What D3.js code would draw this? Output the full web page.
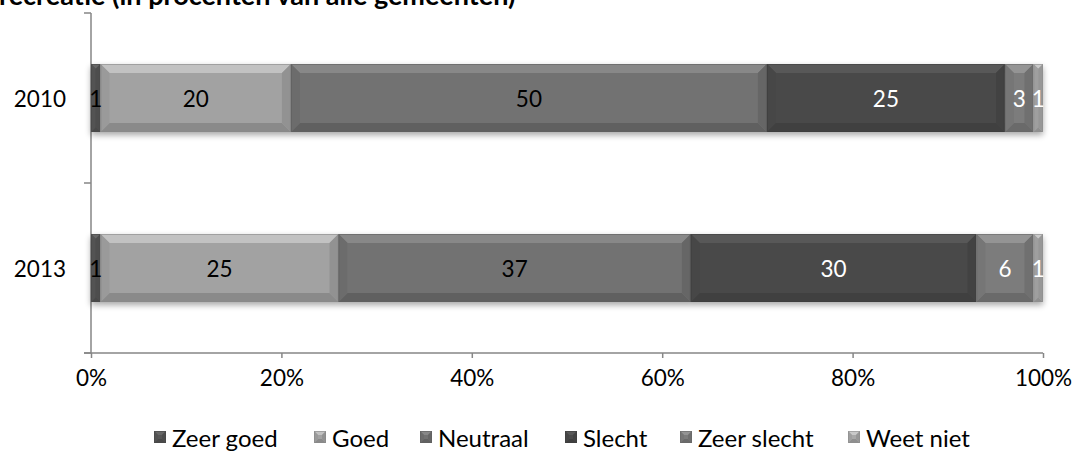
<!DOCTYPE html>
<html><head><meta charset="utf-8">
<script src="https://cdn.jsdelivr.net/npm/d3@7"></script>
<style>body{margin:0;background:#fff;} svg{display:block;font-family:Lato,"Open Sans",sans-serif;}</style>
</head><body>
<svg id="c" width="1074" height="452"></svg>
<script>
const title = "recreatie (in procenten van alle gemeenten)";
const years = ["2010", "2013"];
const seriesNames = ["Zeer goed", "Goed", "Neutraal", "Slecht", "Zeer slecht", "Weet niet"];
const values2010 = [1, 20, 50, 25, 3, 1];
const values2013 = [1, 25, 37, 30, 6, 1];
const xTicks = [0, 0.2, 0.4, 0.6, 0.8, 1.0];
const colors = ["#565656", "#a2a2a2", "#727272", "#4a4a4a", "#7c7c7c", "#a8a8a8"];
const labelColors = ["#000", "#000", "#000", "#fff", "#fff", "#fff"];

const rows = [values2010, values2013];
const svg = d3.select("#c");
const x = d3.scaleLinear().domain([0, 1]).range([91, 1043]);
const y = d3.scaleBand().domain(years).range([13, 353]).paddingInner(0.6).paddingOuter(0.3);

const defs = svg.append("defs");
const f = defs.append("filter").attr("id","sh").attr("x","-5%").attr("y","-30%").attr("width","110%").attr("height","170%");
f.append("feGaussianBlur").attr("in","SourceAlpha").attr("stdDeviation",3).attr("result","b");
f.append("feOffset").attr("in","b").attr("dx",0).attr("dy",3).attr("result","o");
f.append("feComponentTransfer").attr("in","o").attr("result","o2").append("feFuncA").attr("type","linear").attr("slope",0.35);
const m = f.append("feMerge"); m.append("feMergeNode").attr("in","o2"); m.append("feMergeNode").attr("in","SourceGraphic");

// title (partly cut off at top in the reference)
svg.append("text").attr("x", -1).attr("y", 5).attr("font-weight","bold").attr("font-size", 27)
  .attr("fill","#000").text(title);

const gx = svg.append("g").attr("transform","translate(0,353)")
  .call(d3.axisBottom(x).tickValues(xTicks).tickFormat(d3.format(".0%")).tickSize(5).tickPadding(12));
gx.select(".domain").attr("stroke","#868686").attr("stroke-width",1.5).attr("d","M84,0H1043");
gx.selectAll(".tick line").attr("stroke","#868686").attr("stroke-width",1.5);
gx.selectAll(".tick text").attr("font-size",22.5).attr("fill","#000").attr("font-family","Lato,sans-serif");

const gy = svg.append("g").attr("transform","translate(91,0)");
gy.append("line").attr("x1",0).attr("x2",0).attr("y1",13).attr("y2",353).attr("stroke","#868686").attr("stroke-width",1.5);
const bounds = [13, (13+353)/2, 353];
gy.selectAll(".yt").data(bounds).enter().append("line").attr("x1",-7).attr("x2",0)
  .attr("y1",d=>d).attr("y2",d=>d).attr("stroke","#868686").attr("stroke-width",1.5);
gy.selectAll(".yl").data(years).enter().append("text").attr("x",-25).attr("y",d=>y(d)+y.bandwidth()/2)
  .attr("text-anchor","end").attr("dominant-baseline","central").attr("font-size",22.5).text(d=>d);

function bevel(g, x0, x1, y0, y1, color, bmax) {
  const w = x1 - x0, h = y1 - y0;
  const b = Math.min(bmax, w/2, h/2);
  const c = d3.color(color);
  g.append("rect").attr("x",x0).attr("y",y0).attr("width",w).attr("height",h).attr("fill",color);
  const pts = (a)=>a.map(p=>p.join(",")).join(" ");
  g.append("polygon").attr("points",pts([[x0,y0],[x1,y0],[x1-b,y0+b],[x0+b,y0+b]])).attr("fill",c.brighter(0.5));
  g.append("polygon").attr("points",pts([[x0,y1],[x1,y1],[x1-b,y1-b],[x0+b,y1-b]])).attr("fill",c.darker(0.45));
  g.append("polygon").attr("points",pts([[x0,y0],[x0+b,y0+b],[x0+b,y1-b],[x0,y1]])).attr("fill",c.darker(0.15));
  g.append("polygon").attr("points",pts([[x1,y0],[x1-b,y0+b],[x1-b,y1-b],[x1,y1]])).attr("fill",c.darker(0.3));
  g.append("rect").attr("x",x0+0.5).attr("y",y0+0.5).attr("width",Math.max(0,w-1)).attr("height",h-1)
    .attr("fill","none").attr("stroke",c.darker(0.5)).attr("stroke-width",1).attr("opacity",0.6);
}
rows.forEach((vals, i) => {
  const g = svg.append("g").attr("filter","url(#sh)");
  let cum = 0;
  const total = d3.sum(vals);
  const y0 = y(years[i]), y1 = y0 + y.bandwidth();
  vals.forEach((v, j) => {
    const a = x(cum/total), bb = x((cum+v)/total);
    bevel(g, a, bb, y0, y1, colors[j], 9);
    cum += v;
  });
  cum = 0;
  vals.forEach((v, j) => {
    const a = x(cum/total), bb = x((cum+v)/total);
    svg.append("text").attr("x",(a+bb)/2).attr("y",(y0+y1)/2).attr("text-anchor","middle")
      .attr("dominant-baseline","central").attr("font-size",22.5).attr("fill",labelColors[j]).text(v);
    cum += v;
  });
});

const legX = [154, 314, 420, 565, 680, 848];
const lg = svg.append("g");
seriesNames.forEach((n, j) => {
  const g = lg.append("g");
  bevel(g, legX[j], legX[j]+12, 431, 443, colors[j], 4);
  g.append("text").attr("x", legX[j]+18).attr("y", 437).attr("dominant-baseline","central")
    .attr("font-size",24).text(n);
});
</script>
</body></html>
